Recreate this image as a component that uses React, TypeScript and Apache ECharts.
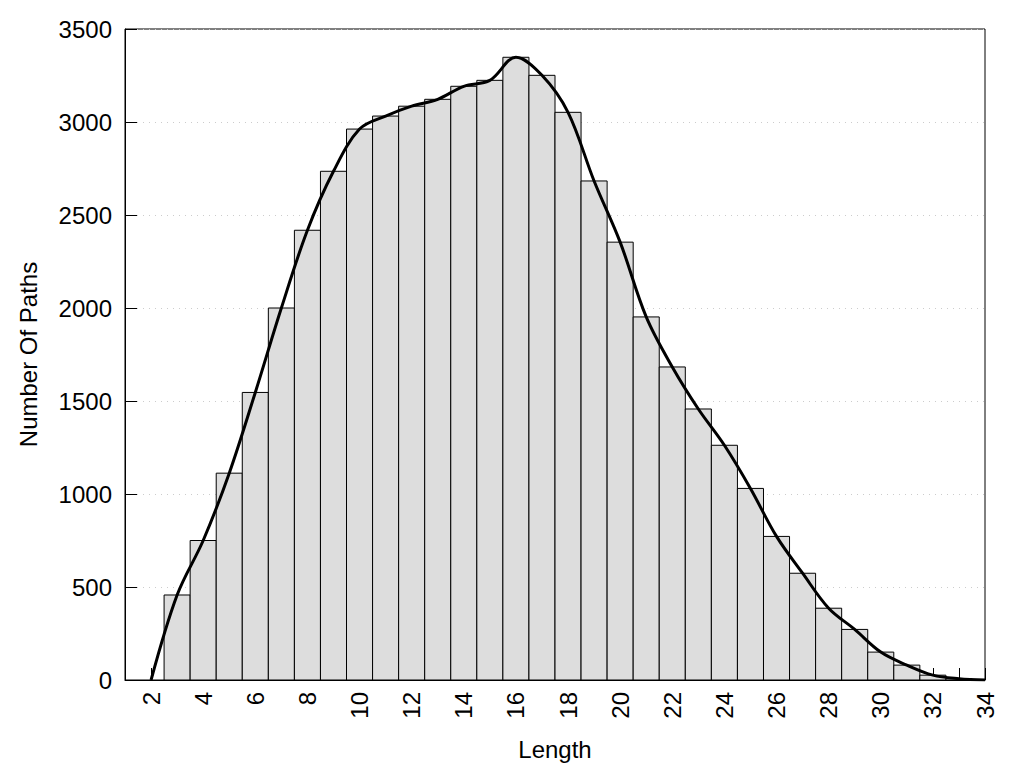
import React, { useEffect, useRef } from "react";
import * as echarts from "echarts";

const lengths = [3, 4, 5, 6, 7, 8, 9, 10, 11, 12, 13, 14, 15, 16, 17, 18, 19, 20, 21, 22, 23, 24, 25, 26, 27, 28, 29, 30, 31, 32, 33];
const counts = [457, 750, 1112, 1546, 2000, 2418, 2735, 2962, 3032, 3085, 3122, 3192, 3224, 3348, 3251, 3052, 2683, 2354, 1952, 1683, 1457, 1262, 1030, 772, 574, 386, 272, 150, 80, 26, 7];
const curveX = [2, ...lengths, 34];
const curveY = [0, ...counts, 0];
const yTicks = [0, 500, 1000, 1500, 2000, 2500, 3000, 3500];

export default function App() {
  const ref = useRef<HTMLDivElement>(null);
  useEffect(() => {
    const chart = echarts.init(ref.current!, null, { renderer: "svg" });
    const font = "'Liberation Sans', Arial, sans-serif";
    chart.setOption({
      animation: false,
      textStyle: { fontFamily: font, color: "#000" },
      grid: { left: 125, right: 39, top: 29, bottom: 88, show: true, borderColor: "#000", borderWidth: 1, backgroundColor: "transparent" },
      xAxis: {
        type: "value",
        min: 1,
        max: 34,
        interval: 1,
        name: "Length",
        nameLocation: "middle",
        nameGap: 57,
        nameTextStyle: { fontSize: 24, color: "#000", fontFamily: font },
        axisLine: { show: true, lineStyle: { color: "#000", width: 1 } },
        axisTick: { show: true, inside: true, length: 12, lineStyle: { color: "#000" } },
        axisLabel: {
          rotate: 90,
          margin: 12,
          fontSize: 24,
          color: "#000",
          fontFamily: font,
          formatter: (v: number) => (v % 2 === 0 ? String(v) : ""),
        },
        splitLine: { show: false },
      },
      yAxis: {
        type: "value",
        min: yTicks[0],
        max: yTicks[yTicks.length - 1],
        interval: 500,
        name: "Number Of Paths",
        nameLocation: "middle",
        nameGap: 85,
        nameTextStyle: { fontSize: 24, color: "#000", fontFamily: font },
        axisLine: { show: true, lineStyle: { color: "#000", width: 1 } },
        axisTick: { show: true, inside: true, length: 12, lineStyle: { color: "#000" } },
        axisLabel: { margin: 13, fontSize: 24, color: "#000", fontFamily: font, formatter: (v: number) => String(v) },
        splitLine: { show: true, lineStyle: { color: "#cccccc", type: [1, 5], width: 1 } },
      },
      series: [
        {
          type: "custom",
          z: 2,
          data: lengths.map((l, i) => [l, counts[i]]),
          renderItem: (params: any, api: any) => {
            const x = api.value(0);
            const y = api.value(1);
            const p0 = api.coord([x - 0.5, y]);
            const p1 = api.coord([x + 0.5, 0]);
            return {
              type: "rect",
              shape: { x: p0[0], y: p0[1], width: p1[0] - p0[0], height: p1[1] - p0[1] },
              style: { fill: "#dddddd", stroke: "#000", lineWidth: 1 },
            };
          },
        },
        {
          type: "line",
          z: 3,
          smooth: 0.35,
          showSymbol: false,
          symbol: "none",
          lineStyle: { color: "#000", width: 3 },
          data: curveX.map((x, i) => [x, curveY[i]]),
        },
      ],
    });
    return () => chart.dispose();
  }, []);
  return <div ref={ref} style={{ width: 1024, height: 768, position: "absolute", left: 0, top: 0 }} />;
}
